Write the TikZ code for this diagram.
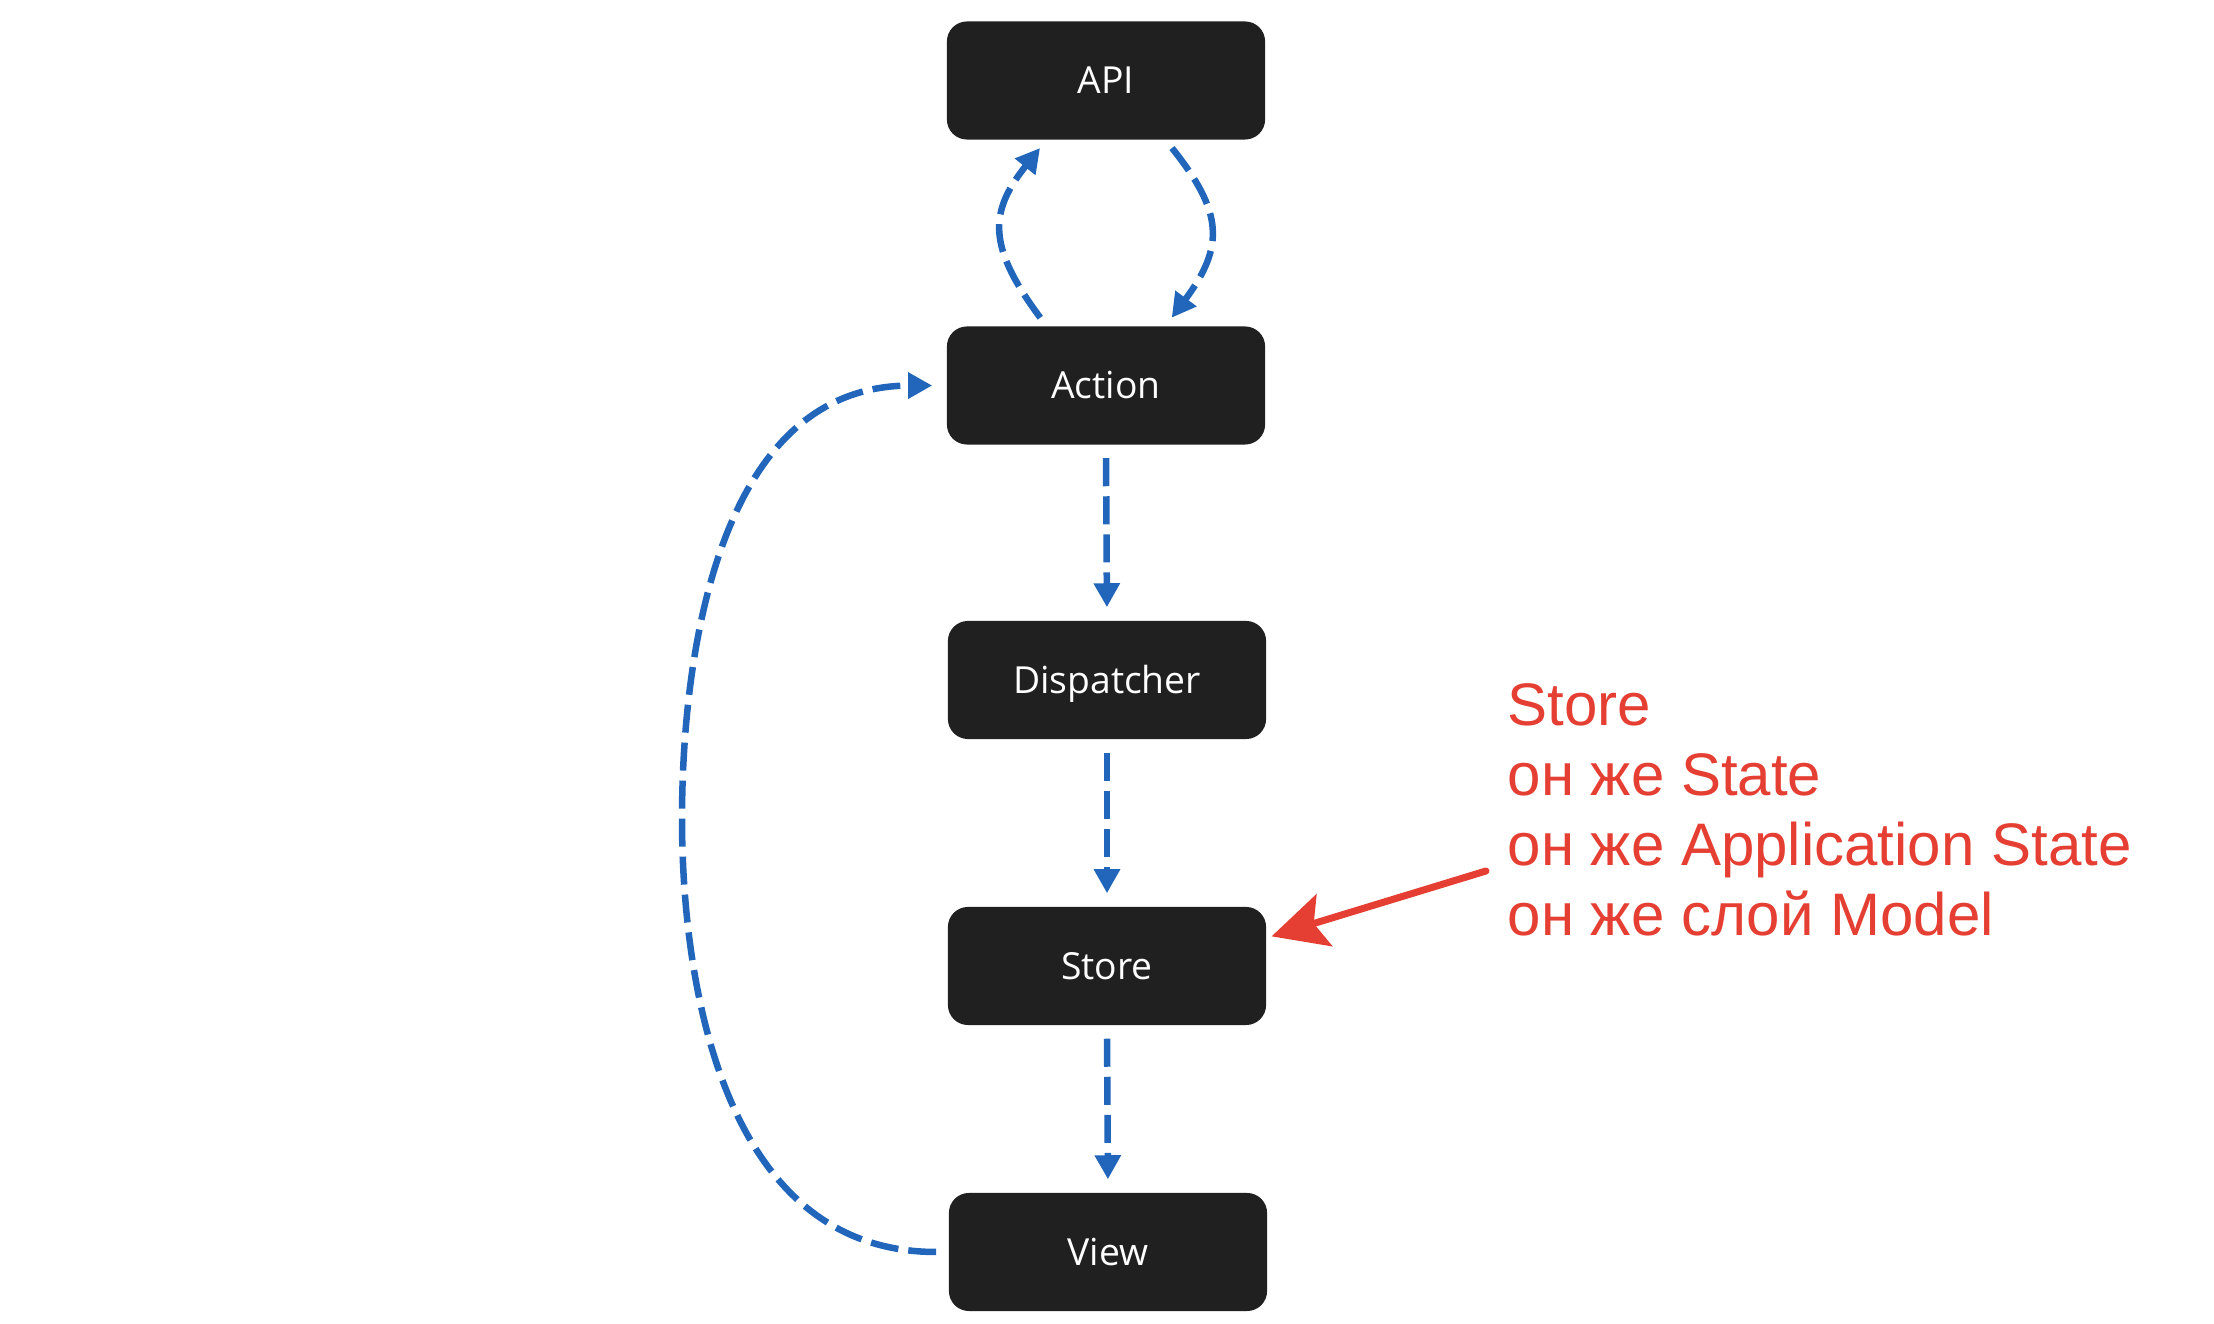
\documentclass[tikz,border=0pt]{standalone}
\usepackage{fontspec}
\usetikzlibrary{arrows.meta}
\newfontfamily\boxfont{Open Sans}
\newfontfamily\notefont{Liberation Sans}
\definecolor{flowBlue}{RGB}{34,102,187}
\definecolor{noteRed}{RGB}{229,62,50}
\definecolor{boxBlack}{RGB}{32,32,32}
\tikzset{
    flowBox/.style={fill=boxBlack,text=white,rounded corners=0.2cm,minimum width=3.18cm,minimum height=1.18cm,inner sep=0pt,text height=0.267cm,text depth=0pt,font=\boxfont\fontsize{10.6}{12}\selectfont},
    flowArrow/.style={draw=flowBlue,line width=0.065cm,dash pattern=on 0.28cm off 0.1cm,-{Triangle[length=0.24cm,width=0.25cm]},shorten <=0.13cm,shorten >=0.13cm},
    noteArrow/.style={draw=noteRed,line width=0.07cm,line cap=round,-{Stealth[length=0.55cm,width=0.54cm,inset=0.11cm]},shorten >=0.05cm}
}
\newcommand{\myBox}[3]{%
    \node[flowBox] (#3) at (#1,#2) {#3};
}

\begin{document}
\begin{tikzpicture}[x=0.01cm,y=0.01cm]
    \useasboundingbox (0,0) rectangle (2214,1324);
    %boxes
    \myBox{1106}{1243.5}{API}
    \myBox{1106}{938.5}{Action}
    \myBox{1107}{644}{Dispatcher}
    \myBox{1107}{358}{Store}
    \myBox{1108}{72}{View}
    %note
    \node[text=noteRed,font=\notefont\fontsize{17.07}{19.93}\selectfont,align=left,anchor=base west,inner sep=0pt] (storeNote) at (1507,388) {Store\\он же State\\он же Application State\\он же слой Model};
    \coordinate (noteTail) at (1486,453);
    %E1
    \draw[flowArrow,shorten <=0.1cm,shorten >=0.1cm] (Action.135) .. controls (987,1078) and (989,1112) .. (API.-135);
    \draw[flowArrow,shorten <=0.1cm,shorten >=0.1cm] (API.-45) .. controls (1223,1112) and (1225,1078) .. (Action.45);
    %E2
    \draw[flowArrow] (Action.south) -- (Dispatcher.north);
    \draw[flowArrow] (Dispatcher.south) -- (Store.north);
    \draw[flowArrow] (Store.south) -- (View.north);
    %E3
    \draw[flowArrow,shorten <=0.12cm,shorten >=0.14cm] (View.west) .. controls (717,72) and (682,355) .. (682,505) .. controls (682,655) and (713,938) .. (Action.west);
    \draw[noteArrow] (noteTail) -- (Store.10);
\end{tikzpicture}
\end{document}
